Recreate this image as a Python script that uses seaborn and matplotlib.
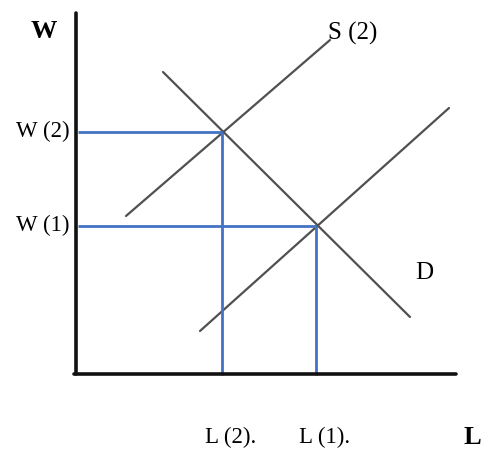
import pandas as pd
import matplotlib.pyplot as plt
import seaborn as sns

sns.set_style('white')
plt.rcParams['font.family'] = ['Liberation Serif', 'DejaVu Serif']
plt.rcParams['text.color'] = 'black'

# curve end points, origin at the axes corner
s2_x = [50, 254]
s2_y = [158, 334]
s1_x = [124, 373]
s1_y = [43, 266]
d_x = [87, 334]
d_y = [302, 57]

# equilibria
eq_l = [146, 240]
eq_w = [242, 148]
w_labels = ['W (2)', 'W (1)']
l_labels = ['L (2).', 'L (1).']

fig = plt.figure(figsize=(4.83, 4.51), dpi=100)
ax = fig.add_axes([0, 0, 1, 1])
ax.set_xlim(-76, 407)
ax.set_ylim(-77, 374)
ax.axis('off')

grey = '#505050'
blue = '#4472c4'

curves = pd.concat([
    pd.DataFrame({'L': s2_x, 'W': s2_y, 'curve': 'S2'}),
    pd.DataFrame({'L': s1_x, 'W': s1_y, 'curve': 'S1'}),
    pd.DataFrame({'L': d_x, 'W': d_y, 'curve': 'D'}),
])
sns.lineplot(data=curves, x='L', y='W', units='curve', estimator=None,
             sort=False, color=grey, lw=1.6, ax=ax, legend=False)

# guide lines from each equilibrium to the axes
for l, w in zip(eq_l, eq_w):
    ax.plot([2, l], [w, w], color=blue, lw=2, solid_capstyle='butt')
    ax.plot([l, l], [w, -1], color=blue, lw=2, solid_capstyle='butt')

# axes
ax.plot([0, 0], [0, 361], color='#111111', lw=2.6)
ax.plot([-2, 380], [0, 0], color='#111111', lw=2.6)

ax.text(-32, 343, 'W', fontsize=19, fontweight='bold', ha='center', va='center')
for w, lab in zip(eq_w, w_labels):
    ax.text(-6, w + 1, lab, fontsize=16.5, ha='right', va='center')
for l, lab in zip(eq_l, l_labels):
    ax.text(l + 9, -63, lab, fontsize=16.5, ha='center', va='center')
ax.text(388, -63, 'L', fontsize=19, fontweight='bold', ha='left', va='center')
ax.text(252, 341, 'S (2)', fontsize=18, ha='left', va='center')
ax.text(348, 101, 'D', fontsize=18, ha='center', va='center')

fig.savefig('out.png', dpi=100)
